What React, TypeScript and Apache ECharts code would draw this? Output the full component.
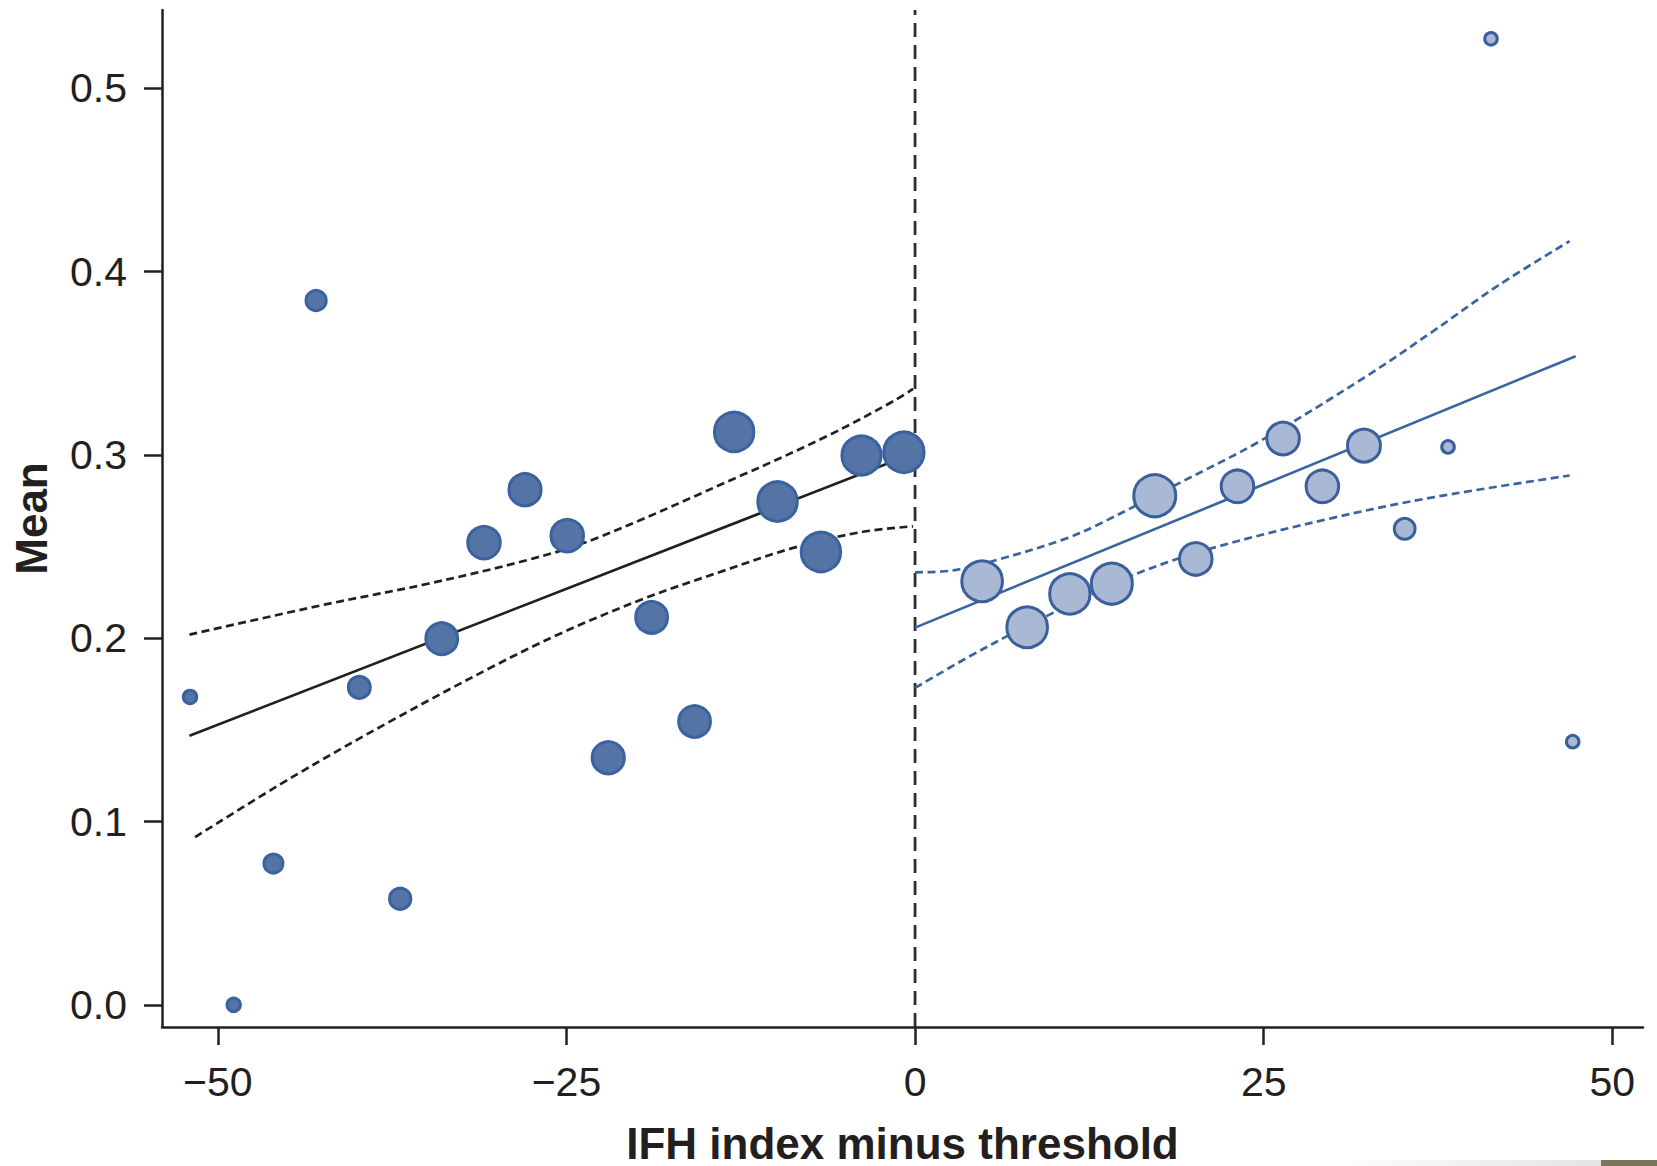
import React, { useEffect, useRef } from "react";
import * as echarts from "echarts";

// ---- data ----
const leftX = [-51.99, -48.86, -46.01, -42.95, -39.85, -36.92, -33.94, -30.91, -27.97, -24.94, -22.0, -18.89, -15.81, -12.97, -9.86, -6.75, -3.84, -0.8];
const leftY = [0.168, 0.0, 0.0771, 0.3843, 0.1732, 0.0579, 0.1998, 0.2522, 0.2811, 0.256, 0.1348, 0.2114, 0.1546, 0.3126, 0.2746, 0.2471, 0.2997, 0.3015];
const leftN = [10, 10, 18, 20, 23, 22, 45, 47, 46, 47, 46, 45, 45, 67, 67, 67, 66, 70];

const rightX = [4.81, 8.04, 11.1, 14.11, 17.19, 20.13, 23.12, 26.39, 29.21, 32.19, 35.11, 38.22, 41.3, 47.16];
const rightY = [0.2311, 0.206, 0.2242, 0.2298, 0.2778, 0.2433, 0.2829, 0.309, 0.2829, 0.3051, 0.2597, 0.3044, 0.5271, 0.1436];
const rightN = [71, 71, 70, 72, 75, 47, 47, 47, 47, 48, 21, 9, 9, 9];

const leftFit = [[-52.03, 0.1468], [-0.5, 0.2997]];
const leftUpper = [[-52.03, 0.202], [-42.19, 0.2186], [-35.02, 0.2296], [-27.85, 0.2426], [-23.07, 0.2539], [-12.32, 0.2893], [-6.34, 0.3102], [-1.57, 0.3293], [-0.14, 0.3361]];
const leftLower = [[-51.63, 0.0915], [-44.58, 0.1246], [-37.41, 0.1556], [-30.24, 0.1847], [-25.46, 0.2025], [-19.49, 0.2215], [-13.51, 0.2374], [-8.74, 0.2493], [-3.96, 0.2578], [-0.14, 0.2611]];

const rightFit = [[0, 0.2058], [47.37, 0.3539]];
const rightUpper = [[0, 0.236], [2.49, 0.2368], [6.08, 0.2432], [10.86, 0.2545], [13.25, 0.2625], [18.98, 0.2848], [24.72, 0.3075], [32.37, 0.343], [37.14, 0.3675], [41.92, 0.393], [46.94, 0.4167]];
const rightLower = [[0, 0.1729], [3.69, 0.1892], [7.27, 0.2038], [10.86, 0.2174], [15.63, 0.2345], [21.37, 0.2493], [29.97, 0.2657], [37.14, 0.2769], [46.94, 0.2888]];

const xTicks = [-50, -25, 0, 25, 50];
const yTicks = [0, 0.1, 0.2, 0.3, 0.4, 0.5];
const xRange = [-54, 52.2];
const yRange = [-0.0121, 0.5428];
const thresholdX = 0;

const INK = "#231f20";
const FONT = "'Liberation Sans', Arial, Helvetica, sans-serif";

export default function App() {
  const ref = useRef<HTMLDivElement>(null);
  useEffect(() => {
    document.body.style.margin = "0";
    document.body.style.overflow = "hidden";
    if (!ref.current) return;
    const chart = echarts.init(ref.current, null, { renderer: "svg" });
    const bw = 3;
    const sizeFn = (v: number[]) => 5.19 * Math.sqrt(v[2]) - bw;
    const dashed = (data: number[][], color: string) => ({
      type: "line",
      data,
      smooth: 0.35,
      showSymbol: false,
      symbol: "none",
      z: 2,
      silent: true,
      lineStyle: { color, width: 2.7, type: [8, 4.5] },
    });
    const solid = (data: number[][], color: string) => ({
      type: "line",
      data,
      showSymbol: false,
      symbol: "none",
      z: 2,
      silent: true,
      lineStyle: { color, width: 2.6 },
    });
    const option: any = {
      animation: false,
      backgroundColor: "#ffffff",
      grid: { left: 162, right: 14, top: 10, bottom: 139, containLabel: false, outerBoundsMode: "none" },
      xAxis: {
        type: "value",
        min: xRange[0],
        max: xRange[1],
        name: "IFH index minus threshold",
        nameLocation: "middle",
        nameGap: 94,
        nameTextStyle: { fontSize: 44, fontWeight: "bold", color: INK, fontFamily: FONT },
        axisLine: { show: true, onZero: false, lineStyle: { color: INK, width: 2.5 } },
        axisTick: { show: true, length: 18, customValues: xTicks, lineStyle: { color: INK, width: 2.5 } },
        axisLabel: {
          show: true,
          customValues: xTicks,
          margin: 34,
          fontSize: 41,
          color: INK,
          fontFamily: FONT,
          formatter: (v: number) => (v < 0 ? "\u2212" + Math.abs(v) : String(v)),
        },
        splitLine: { show: false },
      },
      yAxis: {
        type: "value",
        min: yRange[0],
        max: yRange[1],
        name: "Mean",
        nameLocation: "middle",
        nameGap: 109,
        nameTextStyle: { fontSize: 44, fontWeight: "bold", color: INK, fontFamily: FONT },
        axisLine: { show: true, onZero: false, lineStyle: { color: INK, width: 2.5 } },
        axisTick: { show: true, length: 18, customValues: yTicks, lineStyle: { color: INK, width: 2.5 } },
        axisLabel: {
          show: true,
          customValues: yTicks,
          margin: 35,
          fontSize: 41,
          color: INK,
          fontFamily: FONT,
          formatter: (v: number) => v.toFixed(1),
        },
        splitLine: { show: false },
      },
      series: [
        {
          type: "line",
          data: [[thresholdX, yRange[0]], [thresholdX, yRange[1]]],
          symbol: "none",
          z: 1,
          silent: true,
          lineStyle: { color: "#2e2e2e", width: 2.8, type: [14, 8] },
        },
        solid(leftFit, INK),
        dashed(leftUpper, INK),
        dashed(leftLower, INK),
        solid(rightFit, "#3a64a0"),
        dashed(rightUpper, "#3a64a0"),
        dashed(rightLower, "#3a64a0"),
        {
          type: "scatter",
          z: 5,
          data: leftX.map((x, i) => [x, leftY[i], leftN[i]]),
          symbolSize: sizeFn,
          itemStyle: { color: "#5374a5", borderColor: "#3a62a0", borderWidth: bw, opacity: 1 },
        },
        {
          type: "scatter",
          z: 5,
          data: rightX.map((x, i) => [x, rightY[i], rightN[i]]),
          symbolSize: sizeFn,
          itemStyle: { color: "#a9b8d3", borderColor: "#3a5f9c", borderWidth: bw, opacity: 1 },
        },
      ],
      graphic: [
        {
          type: "rect",
          left: 1320,
          top: 1160,
          shape: { width: 281, height: 6 },
          style: {
            fill: new echarts.graphic.LinearGradient(0, 0, 1, 0, [
              { offset: 0, color: "#ffffff" },
              { offset: 1, color: "#e4e4e4" },
            ]),
          },
          silent: true,
        },
        {
          type: "rect",
          left: 1601,
          top: 1160,
          shape: { width: 56, height: 6 },
          style: { fill: "#7d7359" },
          silent: true,
        },
      ],
    };
    chart.setOption(option);
    return () => chart.dispose();
  }, []);
  return <div ref={ref} style={{ width: 1657, height: 1166 }} />;
}
